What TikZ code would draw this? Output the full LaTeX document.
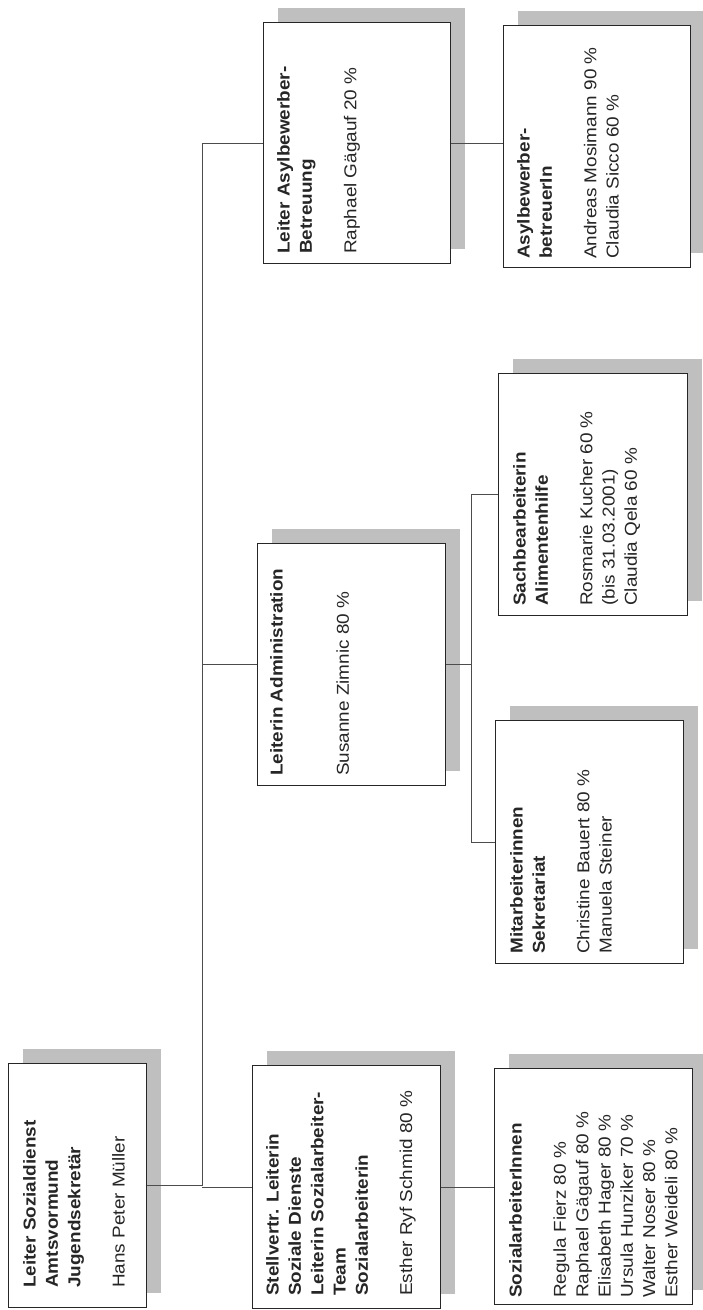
\documentclass[tikz,border=0pt]{standalone}
\usepackage{fontspec}
\setmainfont[FakeStretch=1.1]{Liberation Sans}
\usetikzlibrary{positioning,calc,shadows}

\begin{document}
\begin{tikzpicture}[
    x=1pt, y=-1pt,
    org/.style={rectangle, draw=black!85, line width=0.9pt, fill=white, anchor=north west, inner sep=0pt,
        drop shadow={shadow xshift=15pt, shadow yshift=14pt, fill=black!25, opacity=1}},
    lbl/.style={rotate=90, anchor=north west, inner sep=0pt, align=left, text=black!85,
        font=\fontsize{17.2}{22.3}\selectfont},
    conn/.style={draw=black!70, line width=0.7pt}
]
    \useasboundingbox (0,0) rectangle (703,1310);

    % boxes
    \node [org, minimum width=138pt, minimum height=244pt] (b1) at (8,1063) {};
    \node [org, minimum width=188pt, minimum height=243pt] (b2) at (252,1065) {};
    \node [org, minimum width=198pt, minimum height=236pt] (b3) at (494,1068) {};
    \node [org, minimum width=188pt, minimum height=242pt] (b4) at (257,543) {};
    \node [org, minimum width=188pt, minimum height=243pt] (b5) at (495,720) {};
    \node [org, minimum width=189pt, minimum height=242pt] (b6) at (498,373) {};
    \node [org, minimum width=187pt, minimum height=241pt] (b7) at (263,22) {};
    \node [org, minimum width=187pt, minimum height=242pt] (b8) at (503,25) {};

    % texts
    \node [lbl] (t1) at ($(b1.south west)+(15,-20)$)
        {\textbf{Leiter Sozialdienst}\\ \textbf{Amtsvormund}\\ \textbf{Jugendsekretär}\\[22pt] Hans Peter Müller};
    \node [lbl] (t2) at ($(b2.south west)+(14,-13)$)
        {\textbf{Stellvertr. Leiterin}\\ \textbf{Soziale Dienste}\\ \textbf{Leiterin Sozialarbeiter-}\\ \textbf{Team}\\ \textbf{Sozialarbeiterin}\\[22pt] Esther Ryf Schmid 80 \%};
    \node [lbl] (t3) at ($(b3.south west)+(15,-7)$)
        {\textbf{SozialarbeiterInnen}\\[22pt] Regula Fierz 80 \%\\ Raphael Gägauf 80 \%\\ Elisabeth Hager 80 \%\\ Ursula Hunziker 70 \%\\ Walter Noser 80 \%\\ Esther Weideli 80 \%};
    \node [lbl] (t4) at ($(b4.south west)+(13,-10)$)
        {\textbf{Leiterin Administration}\\[44pt] Susanne Zimnic 80 \%};
    \node [lbl] (t5) at ($(b5.south west)+(15,-10)$)
        {\textbf{Mitarbeiterinnen}\\ \textbf{Sekretariat}\\[22pt] Christine Bauert 80 \%\\ Manuela Steiner};
    \node [lbl] (t6) at ($(b6.south west)+(15,-10)$)
        {\textbf{Sachbearbeiterin}\\ \textbf{Alimentenhilfe}\\[22pt] Rosmarie Kucher 60 \%\\ (bis 31.03.2001)\\ Claudia Qela 60 \%};
    \node [lbl] (t7) at ($(b7.south west)+(14,-10)$)
        {\textbf{Leiter Asylbewerber-}\\ \textbf{Betreuung}\\[22pt] Raphael Gägauf 20 \%};
    \node [lbl] (t8) at ($(b8.south west)+(14,-9)$)
        {\textbf{Asylbewerber-}\\ \textbf{betreuerIn}\\[22pt] Andreas Mosimann 90 \%\\ Claudia Sicco 60 \%};

    % lines
    \coordinate (trunk) at (202,0);
    \coordinate (subtrunk) at (471,0);
    \draw [conn] (b1.east) -- (b1.east -| trunk) |- (b7.west);
    \draw [conn] (b2.west -| trunk) -- (b2.west);
    \draw [conn] (b4.west -| trunk) -- (b4.west);
    \draw [conn] (b2.east) -- (b2.east -| b3.west);
    \draw [conn] (b4.east) -- (b4.east -| subtrunk);
    \draw [conn] (b6.west) -| (subtrunk |- b5.west) -- (b5.west);
    \draw [conn] (b7.east) -- (b7.east -| b8.west);
\end{tikzpicture}
\end{document}
